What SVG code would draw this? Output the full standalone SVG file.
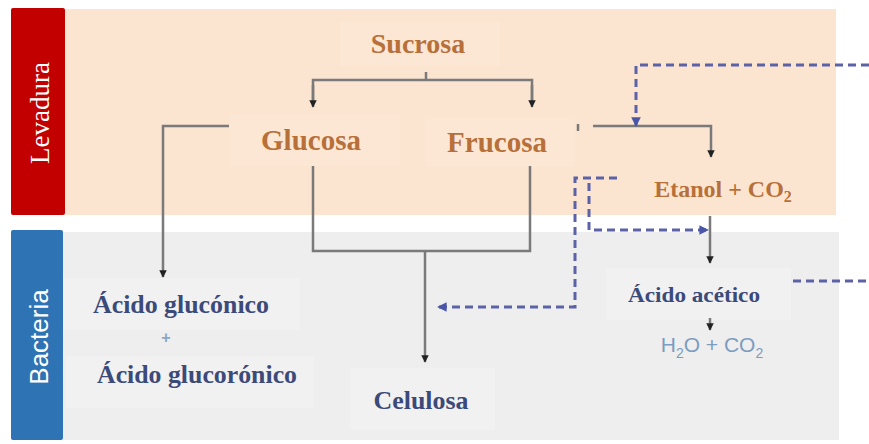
<svg xmlns="http://www.w3.org/2000/svg" width="869" height="444" viewBox="0 0 869 444">
<defs>
<marker id="ah" viewBox="0 0 10 10" refX="9" refY="5" markerWidth="3" markerHeight="3" orient="auto"><path d="M0,0 L10,5 L0,10 z" fill="#222"/></marker>
<marker id="dh" viewBox="0 0 10 10" refX="9" refY="5" markerWidth="3.2" markerHeight="3.2" orient="auto"><path d="M0,0 L10,5 L0,10 z" fill="#4a55a8"/></marker>
<style>
.ln{fill:none;stroke:#7a7a7a;stroke-width:2.5}
.la{fill:none;stroke:#7a7a7a;stroke-width:2.5;marker-end:url(#ah)}
.ds{fill:none;stroke:#5c62a8;stroke-width:3;stroke-dasharray:8 5}
.dsa{fill:none;stroke:#5c62a8;stroke-width:3;stroke-dasharray:8 5;marker-end:url(#dh)}
.or{font-family:"Liberation Serif",serif;font-weight:bold;fill:#b8703a;text-anchor:middle}
.nv{font-family:"Liberation Serif",serif;font-weight:bold;fill:#3c4a7a;text-anchor:middle}
.lab{fill:#ffffff;text-anchor:middle}
.hb{fill:#fce7d5}
.gb{fill:#f1f1f1}
</style>
</defs>
<rect width="869" height="444" fill="#ffffff"/>
<g id="levadura">
<rect x="65" y="9" width="771" height="206" fill="#fbe5d0"/>
<rect x="11" y="8" width="54" height="207" rx="2" fill="#c20000"/>
<text class="lab" font-family="Liberation Serif,serif" font-size="27" transform="translate(49,113) rotate(-90)">Levadura</text>
</g>
<g id="bacteria">
<rect x="63" y="232" width="776" height="208" fill="#eeeeee"/>
<rect x="11" y="230" width="52" height="210" rx="2" fill="#2e73b4"/>
<text class="lab" font-family="Liberation Sans,sans-serif" font-size="26" transform="translate(48,337) rotate(-90)">Bacteria</text>
</g>
<g id="sucrosa"><rect class="hb" x="340" y="22" width="160" height="44"/><text class="or" x="418" y="53" font-size="28">Sucrosa</text></g>
<g id="glucosa"><rect class="hb" x="230" y="114" width="170" height="52"/><text class="or" x="311" y="150" font-size="29">Glucosa</text></g>
<g id="frucosa"><rect class="hb" x="425" y="117" width="150" height="50"/><text class="or" x="497" y="152" font-size="29">Frucosa</text></g>
<g id="etanol"><text class="or" x="723" y="197" font-size="24">Etanol + CO<tspan font-size="16" dy="5">2</tspan></text></g>
<g id="acido-gluconico"><rect class="gb" x="63" y="278" width="237" height="52"/><text class="nv" x="181" y="313" font-size="25" textLength="176" lengthAdjust="spacingAndGlyphs">Ácido glucónico</text></g>
<g id="plus"><text x="166" y="343" font-family="Liberation Sans,sans-serif" font-size="16" font-weight="bold" fill="#8aa6c8" text-anchor="middle">+</text></g>
<g id="acido-glucoronico"><rect class="gb" x="66" y="356" width="248" height="52"/><text class="nv" x="197" y="383" font-size="25" textLength="200" lengthAdjust="spacingAndGlyphs">Ácido glucorónico</text></g>
<g id="celulosa"><rect class="gb" x="350" y="368" width="145" height="62"/><text class="nv" x="421" y="409" font-size="25" textLength="95" lengthAdjust="spacingAndGlyphs">Celulosa</text></g>
<g id="acido-acetico"><rect class="gb" x="606" y="268" width="185" height="52"/><text class="nv" x="694" y="302" font-size="21" textLength="132" lengthAdjust="spacingAndGlyphs">Ácido  acético</text></g>
<g id="h2o-co2"><text x="712" y="352" font-family="Liberation Sans,sans-serif" font-size="21" fill="#7c9cc0" text-anchor="middle">H<tspan font-size="14" dy="6">2</tspan><tspan dy="-6">O + CO</tspan><tspan font-size="14" dy="6">2</tspan></text></g>
<g id="connectors">
<path class="ln" d="M426,72 V80"/>
<path class="ln" d="M313,104 V80 H532 V104"/>
<path class="la" d="M313,85 V107"/>
<path class="la" d="M532,85 V107"/>
<path class="la" d="M229,126 H163 V277"/>
<path class="ln" d="M313,166 V251 H530 V166"/>
<path class="la" d="M425,251 V362"/>
<path class="ln" d="M578,124 V131"/>
<path class="la" d="M593,126 H711 V157"/>
<path class="la" d="M710,216 V263"/>
<path class="la" d="M710,318 V330"/>
<path class="dsa" d="M869,65 H636 V126"/>
<path class="dsa" d="M617,178 H575 V307 H438"/>
<path class="dsa" d="M589,183 V230 H708"/>
<path class="ds" d="M793,281 H869"/>
</g>
</svg>
